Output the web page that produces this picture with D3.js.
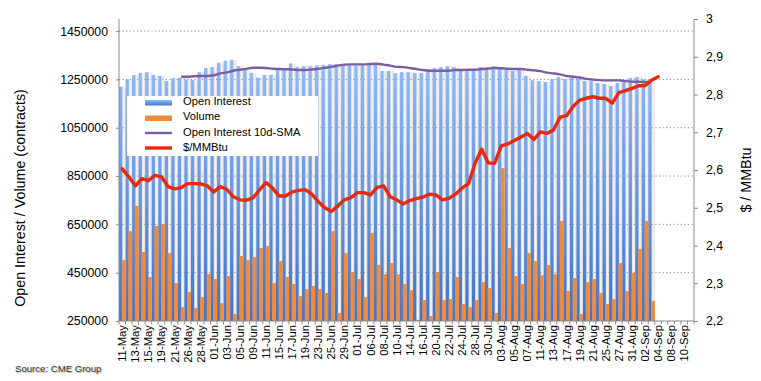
<!DOCTYPE html>
<html><head><meta charset="utf-8">
<script src="https://cdn.jsdelivr.net/npm/d3@7"></script>
<style>
html,body{margin:0;padding:0;background:#fff;}
svg{display:block;font-family:"Liberation Sans",Arial,sans-serif;}
</style></head><body>
<svg id="c" width="761" height="381"></svg>
<script>
const categories = ["11-May","12-May","13-May","14-May","15-May","18-May","19-May","20-May","21-May","22-May","26-May","27-May","28-May","29-May",
"01-Jun","02-Jun","03-Jun","04-Jun","05-Jun","08-Jun","09-Jun","10-Jun","11-Jun","12-Jun","15-Jun","16-Jun","17-Jun","18-Jun","19-Jun","22-Jun","23-Jun","24-Jun","25-Jun","26-Jun","29-Jun","30-Jun",
"01-Jul","02-Jul","06-Jul","07-Jul","08-Jul","09-Jul","10-Jul","13-Jul","14-Jul","15-Jul","16-Jul","17-Jul","20-Jul","21-Jul","22-Jul","23-Jul","24-Jul","27-Jul","28-Jul","29-Jul","30-Jul","31-Jul",
"03-Aug","04-Aug","05-Aug","06-Aug","07-Aug","10-Aug","11-Aug","12-Aug","13-Aug","14-Aug","17-Aug","18-Aug","19-Aug","20-Aug","21-Aug","24-Aug","25-Aug","26-Aug","27-Aug","28-Aug","31-Aug",
"01-Sep","02-Sep","03-Sep","04-Sep","07-Sep","08-Sep","09-Sep","10-Sep","11-Sep"];

const openInterest = [1220000,1250000,1268000,1277000,1280000,1268000,1264000,1243000,1256000,1257000,
1250000,1247000,1280000,1298000,1301000,1319000,1327000,1331000,1305000,1292000,
1277000,1257000,1269000,1269000,1292000,1289000,1316000,1301000,1305000,1305000,
1308000,1310000,1314000,1314000,1310000,1308000,1308000,1308000,1318000,1312000,
1285000,1285000,1276000,1280000,1280000,1276000,1276000,1285000,1297000,1301000,
1305000,1301000,1289000,1289000,1289000,1301000,1293000,1305000,1293000,1289000,
1285000,1289000,1264000,1247000,1243000,1239000,1252000,1260000,1252000,1256000,
1252000,1243000,1243000,1235000,1231000,1223000,1235000,1239000,1256000,1260000,
1250000,1239000];

const volume = [502000,622000,726000,536000,432000,643000,651000,531000,407000,308000,
370000,304000,349000,444000,424000,324000,436000,279000,519000,502000,
515000,552000,560000,407000,498000,432000,403000,353000,382000,395000,
382000,366000,622000,283000,531000,453000,424000,349000,614000,482000,
444000,490000,444000,403000,378000,255000,337000,271000,453000,337000,
341000,432000,320000,308000,337000,411000,386000,283000,883000,552000,
436000,403000,531000,498000,440000,482000,444000,664000,374000,428000,
279000,411000,424000,366000,320000,341000,490000,374000,449000,548000,
664000,333000];

const oiSMA10 = [null,null,null,null,null,null,null,null,null,1261000,
1261000,1263000,1264000,1264000,1267000,1275000,1279000,1286000,1290000,1294000,
1298000,1298000,1297000,1294000,1293000,1292000,1291000,1289000,1289000,1291000,
1294000,1298000,1302000,1307000,1311000,1312000,1312000,1312000,1314000,1315000,
1311000,1307000,1302000,1301000,1297000,1293000,1289000,1286000,1286000,1286000,
1286000,1289000,1289000,1290000,1290000,1293000,1295000,1297000,1296000,1294000,
1293000,1293000,1290000,1288000,1284000,1278000,1275000,1271000,1264000,1261000,
1258000,1252000,1249000,1247000,1246000,1246000,1246000,1243000,1241000,1240000,
1239000,1239000];

const price = [2.603,2.582,2.558,2.577,2.572,2.586,2.582,2.556,2.550,2.553,
2.564,2.564,2.563,2.558,2.542,2.556,2.549,2.529,2.521,2.520,
2.526,2.547,2.567,2.552,2.531,2.531,2.542,2.546,2.548,2.536,
2.516,2.500,2.490,2.505,2.521,2.527,2.540,2.540,2.534,2.554,
2.558,2.529,2.521,2.510,2.519,2.524,2.528,2.536,2.534,2.521,
2.525,2.536,2.552,2.564,2.618,2.655,2.619,2.618,2.664,2.669,
2.678,2.687,2.697,2.681,2.701,2.697,2.706,2.740,2.744,2.768,
2.785,2.790,2.794,2.790,2.790,2.777,2.805,2.810,2.816,2.823,
2.823,2.838,2.847];

const leftTicks = [250000,450000,650000,850000,1050000,1250000,1450000];
const leftTickLabels = ["250000","450000","650000","850000","1050000","1250000","1450000"];
const rightTicks = [2.2,2.3,2.4,2.5,2.6,2.7,2.8,2.9,3.0];
const rightTickLabels = ["2,2","2,3","2,4","2,5","2,6","2,7","2,8","2,9","3"];
const xTickLabels = categories.filter((d,i)=>i%2===0);
const legendLabels = ["Open Interest","Volume","Open Interest 10d-SMA","$/MMBtu"];

const L=119,R=694,T=19,B=321;
const svg = d3.select("#c");
const x = d3.scaleBand().domain(categories).range([L,R]).padding(0);
const bw = x.bandwidth();
const yL = d3.scaleLinear().domain([250000,1500000]).range([B,T]);
const yR = d3.scaleLinear().domain([2.2,3]).range([B,T]);

const defs = svg.append("defs");
const bg = defs.append("linearGradient").attr("id","blueG").attr("gradientUnits","userSpaceOnUse")
  .attr("x1",0).attr("y1",T+40).attr("x2",0).attr("y2",B);
bg.append("stop").attr("offset","0%").attr("stop-color","#93bbf8");
bg.append("stop").attr("offset","100%").attr("stop-color","#3f74cc");
const lg = defs.append("linearGradient").attr("id","blueL").attr("x1",0).attr("y1",0).attr("x2",0).attr("y2",1);
lg.append("stop").attr("offset","0%").attr("stop-color","#93bbf8");
lg.append("stop").attr("offset","100%").attr("stop-color","#3f74cc");
const sg = defs.append("linearGradient").attr("id","stripeG").attr("x1",0).attr("y1",0).attr("x2",1).attr("y2",0);
sg.append("stop").attr("offset","0%").attr("stop-color","#d6d6d6");
sg.append("stop").attr("offset","50%").attr("stop-color","#f6f6f6");
sg.append("stop").attr("offset","100%").attr("stop-color","#dedede");

// stripes (shadow part of OI columns)
svg.append("g").selectAll("rect").data(openInterest).join("rect")
  .attr("x",(d,i)=>x(categories[i])+bw*0.45)
  .attr("width",bw*0.55)
  .attr("y",d=>yL(d)).attr("height",d=>B-yL(d))
  .attr("fill","url(#stripeG)");

// gridlines
svg.append("g").selectAll("line").data(leftTicks.slice(1)).join("line")
  .attr("x1",L).attr("x2",R).attr("y1",d=>yL(d)).attr("y2",d=>yL(d))
  .attr("stroke","#8a8a8a").attr("stroke-width",1).attr("stroke-dasharray","1.2,2.4");

// OI blue columns
svg.append("g").selectAll("rect").data(openInterest).join("rect")
  .attr("x",(d,i)=>x(categories[i]))
  .attr("width",bw*0.5)
  .attr("y",d=>yL(d)).attr("height",d=>B-yL(d))
  .attr("fill","url(#blueG)");

// Volume columns
svg.append("g").selectAll("rect").data(volume).join("rect")
  .attr("x",(d,i)=>x(categories[i])+bw*0.42)
  .attr("width",bw*0.6)
  .attr("y",d=>yL(d)).attr("height",d=>B-yL(d))
  .attr("fill","#f08b3d");

// lines
const smaLine = d3.line().defined(d=>d!=null)
  .x((d,i)=>x(categories[i])+bw/2).y(d=>yL(d)).curve(d3.curveMonotoneX);
svg.append("path").attr("d",smaLine(oiSMA10)).attr("fill","none")
  .attr("stroke","#7b5e9f").attr("stroke-width",2.4).attr("stroke-linejoin","round");
const priceLine = d3.line().x((d,i)=>x(categories[i])+bw/2).y(d=>yR(d));
svg.append("path").attr("d",priceLine(price)).attr("fill","none")
  .attr("stroke","#e8290e").attr("stroke-width",3.4).attr("stroke-linejoin","round").attr("stroke-linecap","round");

// axes
const axColor = "#8a8a8a";
const gL = svg.append("g").attr("transform",`translate(${L},0)`)
  .call(d3.axisLeft(yL).tickValues(leftTicks).tickFormat((d,i)=>leftTickLabels[i]).tickSize(3).tickPadding(8).tickSizeOuter(0));
const gR = svg.append("g").attr("transform",`translate(${R},0)`)
  .call(d3.axisRight(yR).tickValues(rightTicks).tickFormat((d,i)=>rightTickLabels[i]).tickSize(4).tickPadding(8).tickSizeOuter(0));
[gL,gR].forEach(g=>{
  g.select(".domain").attr("stroke",axColor).attr("d", g===gL ? `M0,${T}V${B}` : `M0,${T}V${B}`);
  g.selectAll(".tick line").attr("stroke",axColor);
  g.selectAll("text").attr("font-size","12.3px").attr("fill","#000").attr("font-family","Liberation Sans, Arial, sans-serif");
});

const gX = svg.append("g").attr("transform",`translate(0,${B})`)
  .call(d3.axisBottom(x).tickValues(xTickLabels).tickSize(0).tickSizeOuter(0));
gX.select(".domain").attr("stroke",axColor).attr("d",`M${L},0H${R}`);
gX.selectAll(".tick text")
  .attr("font-size","11.3px").attr("fill","#000").attr("font-family","Liberation Sans, Arial, sans-serif")
  .attr("text-anchor","end").attr("transform","translate(0,4) rotate(-90)")
  .attr("x",0).attr("y",0).attr("dy","0.35em");
// category boundary ticks
svg.append("g").selectAll("line").data(categories.concat([null])).join("line")
  .attr("x1",(d,i)=> d==null ? R : x(d)).attr("x2",(d,i)=> d==null ? R : x(d))
  .attr("y1",B).attr("y2",B+3.5).attr("stroke",axColor);

// axis titles
svg.append("text").attr("transform","translate(24.5,198) rotate(-90)")
  .attr("text-anchor","middle").attr("font-size","14.3px").attr("fill","#000")
  .text("Open Interest / Volume (contracts)");
svg.append("text").attr("transform","translate(751,180) rotate(-90)")
  .attr("text-anchor","middle").attr("font-size","14.3px").attr("fill","#000")
  .text("$ / MMBtu");

// legend
const lgG = svg.append("g");
lgG.append("rect").attr("x",127).attr("y",96).attr("width",191).attr("height",60).attr("fill","#fff");
const ly = [103,118.5,134,149.5];
lgG.append("rect").attr("x",145).attr("y",ly[0]-3).attr("width",27).attr("height",5.5).attr("fill","url(#blueL)");
lgG.append("rect").attr("x",145).attr("y",ly[1]-3).attr("width",27).attr("height",5.5).attr("fill","#f08b3d");
lgG.append("line").attr("x1",145).attr("x2",172).attr("y1",ly[2]-1).attr("y2",ly[2]-1).attr("stroke","#7b5e9f").attr("stroke-width",2.4);
lgG.append("line").attr("x1",145).attr("x2",172).attr("y1",ly[3]-1.5).attr("y2",ly[3]-1.5).attr("stroke","#e8290e").attr("stroke-width",3.4);
lgG.selectAll("text").data(legendLabels).join("text")
  .attr("x",183).attr("y",(d,i)=>ly[i]+1.5).attr("font-size","11.2px").attr("fill","#000").text(d=>d);

// source
svg.append("text").attr("x",15).attr("y",372).attr("font-size","9.6px").attr("fill","#333")
  .style("text-shadow","1px 1px 1px #aaa").text("Source: CME Group");
</script>
</body></html>
